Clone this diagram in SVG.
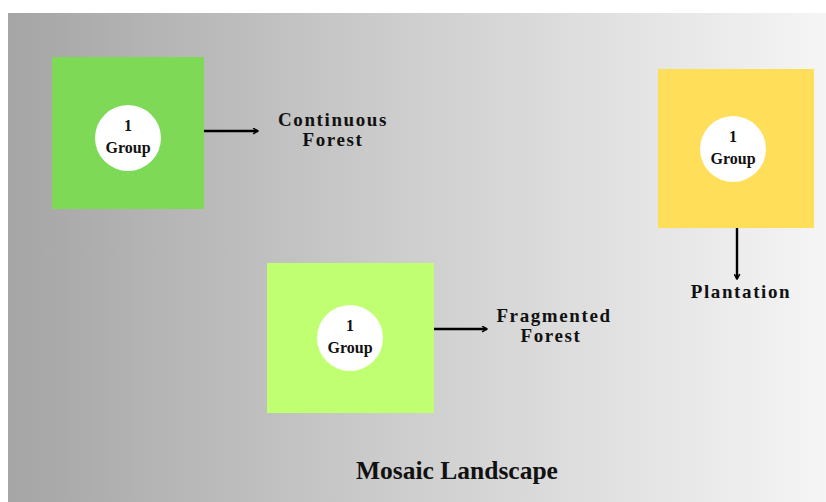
<svg xmlns="http://www.w3.org/2000/svg" width="826" height="502" viewBox="0 0 826 502">
<defs>
<linearGradient id="bg" x1="0" y1="0" x2="1" y2="0">
<stop offset="0" stop-color="#a5a5a5"/>
<stop offset="0.45" stop-color="#cbcbcb"/>
<stop offset="1" stop-color="#f5f5f5"/>
</linearGradient>
<marker id="arr" viewBox="0 0 10 10" refX="8" refY="5" markerWidth="7" markerHeight="7" markerUnits="userSpaceOnUse" orient="auto">
<path d="M1,1 L8,5 L1,9" fill="none" stroke="#000" stroke-width="2.2"/>
</marker>
<style>
.circ{fill:#fff}
.ctext{font-family:"Liberation Serif","Times New Roman",serif;font-weight:bold;font-size:16px;fill:#111;text-anchor:middle}
.label{font-family:"Liberation Serif","Times New Roman",serif;font-weight:bold;font-size:19px;fill:#111;text-anchor:middle;letter-spacing:1.6px}
.title{font-family:"Liberation Serif","Times New Roman",serif;font-weight:bold;font-size:25.5px;fill:#111;text-anchor:middle}
.conn{stroke:#000;stroke-width:2.4;fill:none;marker-end:url(#arr)}
</style>
</defs>
<rect x="0" y="0" width="826" height="502" fill="#fff"/>
<rect x="8" y="13" width="818" height="489" fill="url(#bg)"/>
<g id="continuous">
<rect x="52" y="57" width="152" height="152" fill="#7ed957"/>
<circle class="circ" cx="128" cy="138" r="33"/>
<text class="ctext" x="128" y="131">1</text>
<text class="ctext" x="128" y="153">Group</text>
<text class="label" x="333" y="126">Continuous</text>
<text class="label" x="333" y="146">Forest</text>
</g>
<g id="plantation">
<rect x="658" y="69" width="156" height="159" fill="#ffde59"/>
<circle class="circ" cx="733" cy="149" r="33"/>
<text class="ctext" x="733" y="142">1</text>
<text class="ctext" x="733" y="164">Group</text>
<text class="label" x="741" y="298">Plantation</text>
</g>
<g id="fragmented">
<rect x="267" y="263" width="167" height="150" fill="#c1ff72"/>
<circle class="circ" cx="350" cy="338" r="33"/>
<text class="ctext" x="350" y="331">1</text>
<text class="ctext" x="350" y="353">Group</text>
<text class="label" x="554" y="322">Fragmented</text>
<text class="label" x="551" y="342">Forest</text>
</g>
<g id="title">
<text class="title" x="457" y="479">Mosaic Landscape</text>
</g>
<g id="connectors">
<line class="conn" x1="204" y1="131" x2="258" y2="131"/>
<line class="conn" x1="737" y1="228" x2="737" y2="279"/>
<line class="conn" x1="434" y1="329" x2="487" y2="329"/>
</g>
</svg>
